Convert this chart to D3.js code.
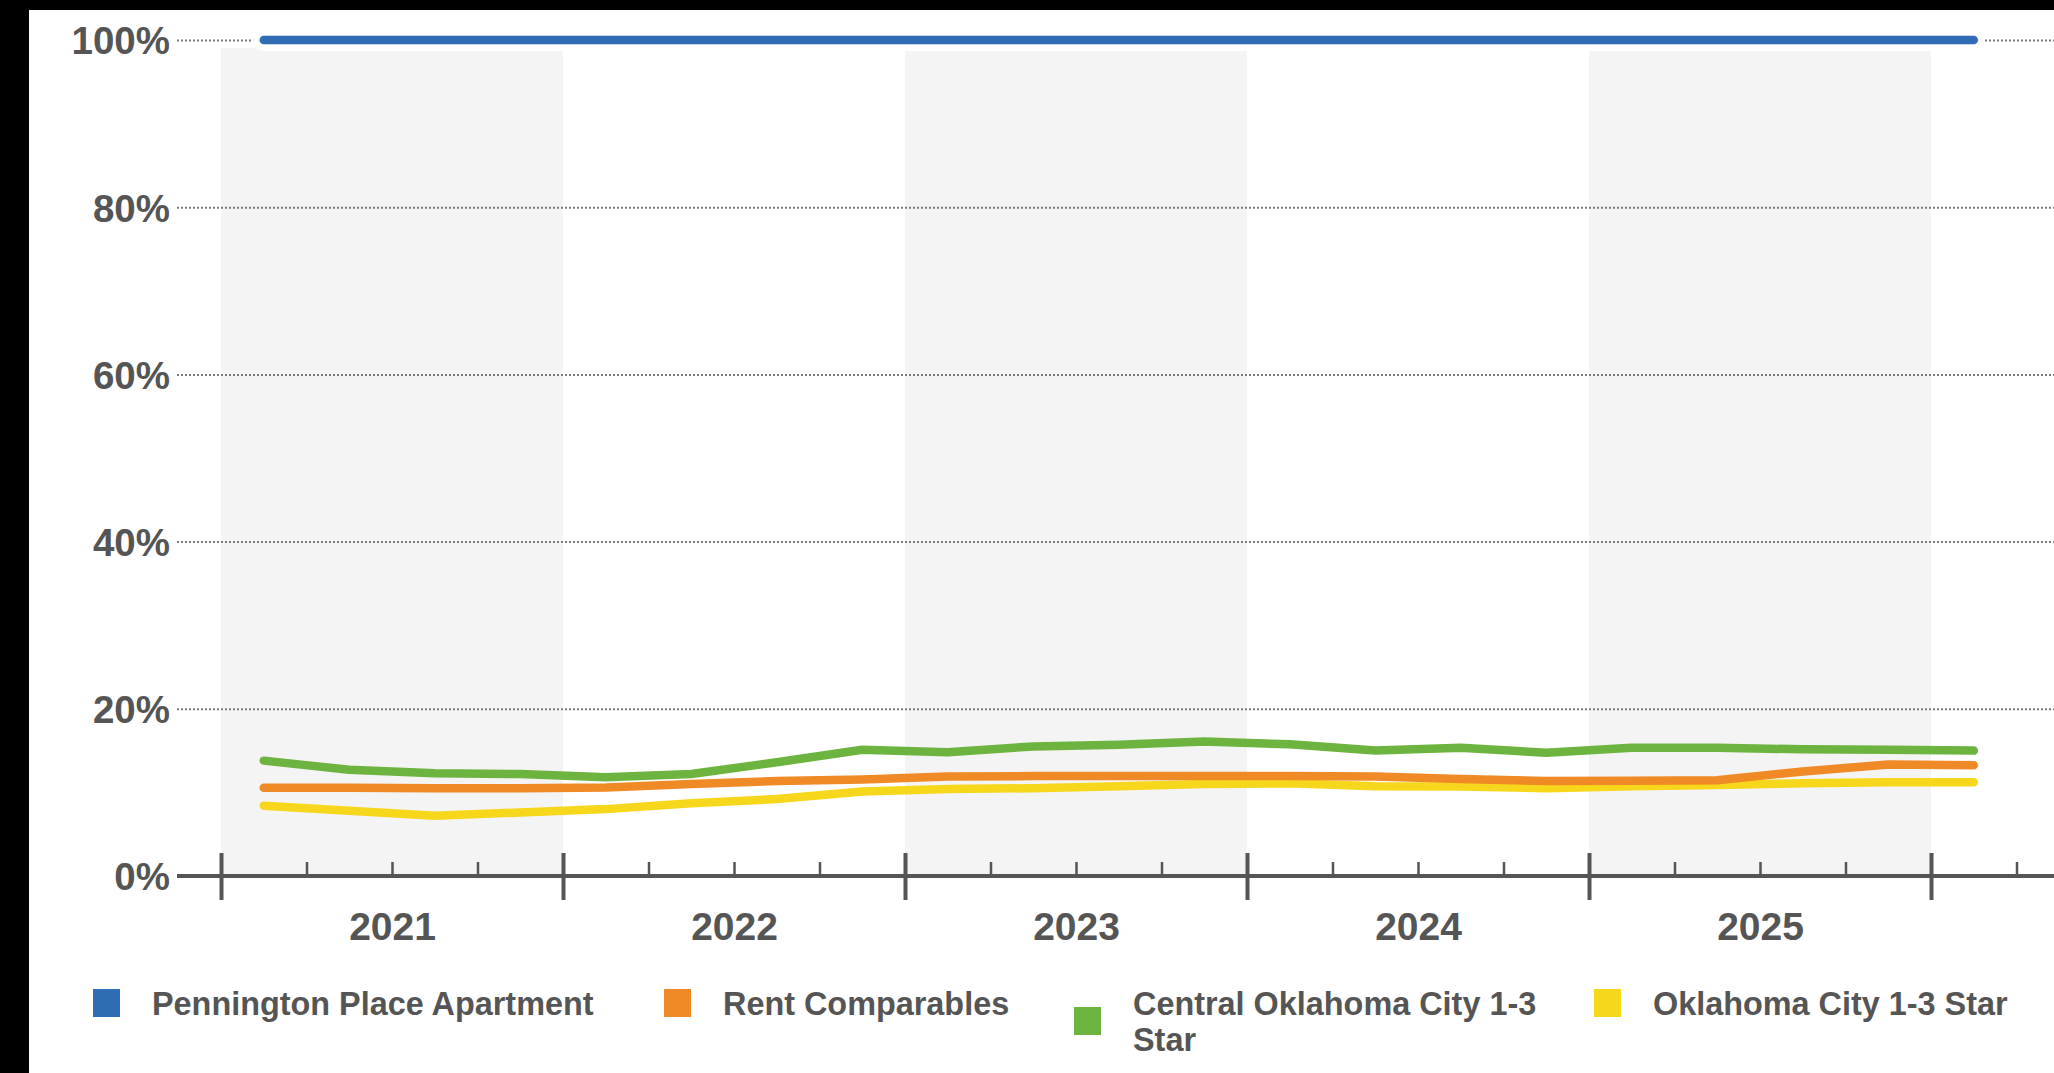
<!DOCTYPE html>
<html>
<head>
<meta charset="utf-8">
<script src="https://cdn.jsdelivr.net/npm/d3@7"></script>
<style>
  html, body { margin: 0; padding: 0; background: #fff; }
  svg { display: block; font-family: "Liberation Sans", Arial, sans-serif; }
</style>
</head>
<body>
<svg id="chart" width="2054" height="1073"></svg>
<script>
// Quarterly occupancy-style percentages, 2021 Q1 – 2026 Q1
const quarters = ["2021 Q1","2021 Q2","2021 Q3","2021 Q4",
                  "2022 Q1","2022 Q2","2022 Q3","2022 Q4",
                  "2023 Q1","2023 Q2","2023 Q3","2023 Q4",
                  "2024 Q1","2024 Q2","2024 Q3","2024 Q4",
                  "2025 Q1","2025 Q2","2025 Q3","2025 Q4",
                  "2026 Q1"];

const penningtonPlace = [100,100,100,100,100,100,100,100,100,100,100,100,100,100,100,100,100,100,100,100,100];
const rentComparables = [10.55,10.55,10.5,10.5,10.6,11.0,11.35,11.55,11.9,11.95,11.95,11.95,11.95,11.9,11.6,11.35,11.4,11.45,12.5,13.35,13.25];
const centralOkc13    = [13.8,12.7,12.3,12.2,11.8,12.2,13.6,15.1,14.8,15.5,15.7,16.1,15.75,15.0,15.35,14.75,15.35,15.35,15.15,15.1,15.0];
const okc13           = [8.4,7.8,7.2,7.6,8.0,8.7,9.2,10.1,10.4,10.5,10.75,11.0,11.1,10.75,10.7,10.5,10.75,10.9,11.1,11.2,11.2];

const seriesNames  = ["Pennington Place Apartment", "Rent Comparables", "Central Oklahoma City 1-3 Star", "Oklahoma City 1-3 Star"];
const seriesColors = ["#2e6db4", "#ef8a26", "#6db33f", "#f7d71c"];
const seriesValues = [penningtonPlace, rentComparables, centralOkc13, okc13];

const yearLabels = ["2021", "2022", "2023", "2024", "2025"];
const yTicks = [0, 20, 40, 60, 80, 100];

// ---- layout ----
const W = 2054, H = 1073;
const svg = d3.select("#chart");

// dark frame on the left and top edges
svg.append("rect").attr("x", 0).attr("y", 0).attr("width", W).attr("height", H).attr("fill", "#fff");
svg.append("rect").attr("x", 0).attr("y", 0).attr("width", 29).attr("height", H).attr("fill", "#000");
svg.append("rect").attr("x", 0).attr("y", 0).attr("width", W).attr("height", 10).attr("fill", "#000");

// decimal year at the middle of a quarter
const quarterMid = q => {
  const [yr, qq] = q.split(" Q");
  return +yr + (+qq - 0.5) / 4;
};

const x = d3.scaleLinear().domain([2021, 2026]).range([221, 1931]);
const y = d3.scaleLinear().domain([0, 100]).range([876, 40]);
const axisLeftX = 177;

// alternating year bands
const bandYears = [2021, 2023, 2025];
svg.append("g").selectAll("rect").data(bandYears).join("rect")
  .attr("x", d => x(d))
  .attr("width", d => x(d + 1) - x(d))
  .attr("y", y(100) + 8)
  .attr("height", y(0) - y(100) - 8)
  .attr("fill", "#f4f4f4");

// y axis with dotted gridlines
const yAxis = svg.append("g")
  .attr("transform", `translate(${axisLeftX},0)`)
  .call(d3.axisLeft(y).tickValues(yTicks).tickSize(-(W - axisLeftX)).tickPadding(7).tickFormat(d => d + "%"));
yAxis.select(".domain").remove();
yAxis.selectAll(".tick line")
  .attr("stroke", "#7a7a7a").attr("stroke-width", 2).attr("stroke-dasharray", "2,2");
yAxis.selectAll(".tick").filter(d => d === 0).select("line").remove();
yAxis.selectAll(".tick text")
  .attr("fill", "#555").attr("font-size", 38.5).attr("font-weight", "bold")
  .attr("dy", "0.36em");

// x axis: baseline, year ticks, quarter ticks, year labels
const xg = svg.append("g").attr("transform", `translate(0,${y(0)})`);
xg.append("line")
  .attr("x1", axisLeftX).attr("x2", W).attr("y1", 0).attr("y2", 0)
  .attr("stroke", "#555").attr("stroke-width", 4);

const majorYears = d3.range(2021, 2027);
const minorTicks = d3.range(2021, 2026.3, 0.25).filter(v => v % 1 !== 0);

const major = xg.append("g")
  .call(d3.axisBottom(x).tickValues(majorYears).tickSize(24).tickFormat(""));
major.select(".domain").remove();
major.selectAll(".tick line").attr("y1", -23).attr("stroke", "#555").attr("stroke-width", 4);

const minor = xg.append("g")
  .call(d3.axisBottom(x).tickValues(minorTicks).tickSize(-14).tickFormat(""));
minor.select(".domain").remove();
minor.selectAll(".tick line").attr("stroke", "#555").attr("stroke-width", 2.5);

const labels = xg.append("g")
  .call(d3.axisBottom(x).tickValues(yearLabels.map(s => +s + 0.5)).tickSize(0).tickPadding(36)
    .tickFormat((d, i) => yearLabels[i]));
labels.select(".domain").remove();
labels.selectAll(".tick text").attr("fill", "#555").attr("font-size", 39).attr("font-weight", "bold");

// series lines
const line = d3.line()
  .x((d, i) => x(quarterMid(quarters[i])))
  .y(d => y(d));

const lineOrder = [3, 1, 2, 0];
lineOrder.forEach(si => {
  if (si === 0) {
    svg.append("path").datum(seriesValues[si])
      .attr("d", line).attr("fill", "none")
      .attr("stroke", "#fff").attr("stroke-width", 22).attr("stroke-opacity", 0.9)
      .attr("stroke-linecap", "round");
  }
  svg.append("path").datum(seriesValues[si])
    .attr("d", line)
    .attr("fill", "none")
    .attr("stroke", seriesColors[si])
    .attr("stroke-width", 8.5)
    .attr("stroke-linejoin", "round")
    .attr("stroke-linecap", "round");
});

// legend
const legendX = [93, 664, 1074, 1594];
const legendLines = [["Pennington Place Apartment"], ["Rent Comparables"], ["Central Oklahoma City 1-3", "Star"], ["Oklahoma City 1-3 Star"]];
const legendTop = 1003, lineGap = 36;
const lg = svg.append("g");
seriesNames.forEach((name, i) => {
  const rows = legendLines[i];
  const cy = legendTop + (rows.length - 1) * lineGap / 2;
  lg.append("rect")
    .attr("x", legendX[i]).attr("y", cy - 14)
    .attr("width", 27).attr("height", 28)
    .attr("fill", seriesColors[i]);
  const t = lg.append("text")
    .attr("x", legendX[i] + 59).attr("y", legendTop)
    .attr("fill", "#555").attr("font-size", 32.4).attr("font-weight", "bold");
  rows.forEach((r, k) => {
    t.append("tspan").attr("x", legendX[i] + 59).attr("y", legendTop + k * lineGap).attr("dy", "0.36em").text(r);
  });
});
</script>
</body>
</html>
